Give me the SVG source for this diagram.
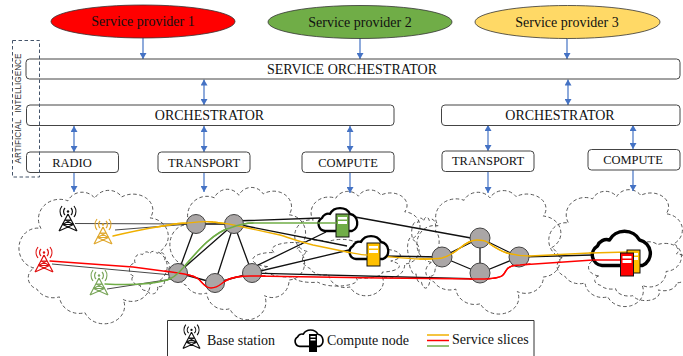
<svg xmlns="http://www.w3.org/2000/svg" width="683" height="356" viewBox="0 0 683 356">
<style>
text{font-family:"Liberation Serif","Times New Roman",serif;fill:#111;text-anchor:middle}
.sp{font-size:14px}
.lg{font-size:14px}
.md{font-size:12.5px}
.lt{text-anchor:start;font-size:14px}
.box{fill:#fff;stroke:#444;stroke-width:1}
.prov{stroke:#4472c4;stroke-width:1.2;fill:none;marker-end:url(#ah)}
.dbl{stroke:#4472c4;stroke-width:1.2;fill:none;marker-start:url(#ahs);marker-end:url(#ah)}
.cloud{fill:none;stroke:#444;stroke-width:.9;stroke-dasharray:3.5 2.5;vector-effect:non-scaling-stroke}
.lnk{stroke:#111;stroke-width:1.3;fill:none}
.thin{stroke:#333;stroke-width:.9;fill:none}
.nd{fill:#aaa6a6;stroke:#444;stroke-width:1}
.cl{fill:#fff;stroke:#000;stroke-width:2.3;stroke-linejoin:round}
.slice{fill:none;stroke-width:1.4;stroke-linecap:round}
.tw{fill:none;stroke-width:1.2;stroke:currentColor}
.bar{fill:#fff}
</style>
<defs>
<marker id="ah" markerWidth="8" markerHeight="7" refX="6" refY="3.5" orient="auto" markerUnits="userSpaceOnUse"><path d="M0,0L6,3.5L0,7Z" fill="#4472c4"/></marker>
<marker id="ahs" markerWidth="8" markerHeight="7" refX="0" refY="3.5" orient="auto" markerUnits="userSpaceOnUse"><path d="M6,0L0,3.5L6,7Z" fill="#4472c4"/></marker>
<path id="cloudp" class="cloud" d="M9,62A12,14 0 0 1 14,32A15,15 0 0 1 33,11A11,11 0 0 1 52,9A11,11 0 0 1 71,8A14,12 0 0 1 91,24A14,14 0 0 1 97,50A13,13 0 0 1 91,74A13,13 0 0 1 72,86A14,13 0 0 1 45,96A14,14 0 0 1 27,84A13,12 0 0 1 11,78A9,9 0 0 1 9,62Z"/>
<g id="tower" class="tw">
<path d="M0,-5L-9,12M0,-5L9,12M-2.8,1L2.8,1M-5.5,5.5L5.5,5.5M-2.8,1L5.5,5.5M2.8,1L-5.5,5.5M-5.5,5.5L9,12M5.5,5.5L-9,12"/>
<circle cx="0" cy="-7.500" r="1.200" fill="currentColor" stroke="none"/>
<path d="M-3,-11A5,5 0 0 0 -3,-4M3,-11A5,5 0 0 1 3,-4M-6,-13A9,9 0 0 0 -6,-2M6,-13A9,9 0 0 1 6,-2"/>
</g>
<path id="cld" class="cl" d="M8,27A7,7 0 0 1 5,14A6.500,6.500 0 0 1 13,10A11,10 0 0 1 33,10A9,9 0 0 1 35,27Z"/>
<g id="srv"><rect width="13" height="23" stroke="#111" stroke-width="1"/><rect class="bar" x="2" y="3" width="9" height="2.500"/><rect class="bar" x="2" y="7" width="9" height="3"/></g>
</defs>

<g id="clouds">
<use href="#cloudp" transform="translate(21.200,186.400) scale(1.416,1.315)"/>
<use href="#cloudp" transform="translate(171.900,183.500) scale(1.287,1.304)"/>
<use href="#cloudp" transform="translate(296.600,186.800) scale(1.188,1.043)"/>
<use href="#cloudp" transform="translate(419,186.900) scale(1.366,1.217)"/>
<use href="#cloudp" transform="translate(550.800,186.200) scale(1.267,1.152)"/>
<use href="#cloudp" transform="translate(130,250) scale(.38,.42)"/>
<use href="#cloudp" transform="translate(255,238) scale(1.4,.46)"/>
<use href="#cloudp" transform="translate(408,215) scale(.3,.7)"/>
<use href="#cloudp" transform="translate(590,240) scale(.95,.58)"/>
</g>

<g id="connectors">
<path class="prov" d="M143,38V59"/>
<path class="prov" d="M360,38V59"/>
<path class="prov" d="M567,38V59"/>
<path class="dbl" d="M204,79.500V105"/>
<path class="dbl" d="M568,79.500V105"/>
<path class="dbl" d="M74,126V152"/>
<path class="dbl" d="M204,126V152"/>
<path class="dbl" d="M350,126V152"/>
<path class="dbl" d="M488,125V151"/>
<path class="dbl" d="M633,125V149"/>
<path class="prov" d="M74,172V192"/>
<path class="prov" d="M204,172V192"/>
<path class="prov" d="M350,172V193"/>
<path class="prov" d="M488,171V193"/>
<path class="prov" d="M633,169V191"/>
<path class="thin" d="M75,223.500L190,224M115,230L190,224M52,264L172,275M107,289L172,279"/>
<path class="lnk" d="M196,224H234M196,224L178,273M234,224L178,273M234,224L215,283M234,224L252,273M178,273L215,283M215,283L252,273"/>
<path class="lnk" d="M234,221L320,218M236,224L347,246M252,268L326,232M252,273L349,250M252,273L480,279M355,217L471,238M380,256L442,257M442,257L480,238M442,257L480,273M480,238V273M480,238L519,257M480,273L519,257M519,257L628,254"/>
</g>

<g id="slices">
<path class="slice" stroke="#70ad47" d="M105,284C125,285 150,285 167,280C176,277 179,272 183,268C190,260 198,250 207,242C216,234 222,230 230,228C238,225 246,223 253,223L340,223"/>
<path class="slice" stroke="#f00" d="M50,261L133,267L178,273C186,274 192,275 197,278C202,281 204,288 211,288C219,288 221,283 227,280C233,277 242,276 250,276L380,278L480,279C492,279 500,278 503,275C506,272 506,268 510,267C513,265 516,265 520,265L593,260L622,260"/>
<path class="slice" stroke="#f0b000" d="M113,236C130,232 145,229 157,227C168,225 178,223 187,223C197,222 206,221 213,222C225,223 235,225 243,227L280,235C290,238 300,242 313,245L347,252C358,254 368,256 380,256C393,257 407,259 420,259C430,259 437,259 442,258C450,256 455,252 460,248C466,243 472,240 477,240C482,240 484,240 487,242C494,247 500,251 507,253C514,255 522,256 530,256L590,253L630,252"/>
</g>

<g id="sp1"><ellipse cx="143" cy="21.500" rx="92" ry="16.500" fill="#f00" stroke="#333" stroke-width=".8"/><text class="sp" x="143" y="26">Service provider 1</text></g>
<g id="sp2"><ellipse cx="360" cy="22" rx="92" ry="16.500" fill="#70ad47" stroke="#333" stroke-width=".8"/><text class="sp" x="360" y="27">Service provider 2</text></g>
<g id="sp3"><ellipse cx="567.500" cy="22" rx="92.500" ry="16.500" fill="#ffd966" stroke="#333" stroke-width=".8"/><text class="sp" x="567" y="27">Service provider 3</text></g>

<g id="service-orchestrator"><rect class="box" x="26" y="59" width="654" height="20" rx="3.500"/><text class="lg" x="352" y="73.500">SERVICE ORCHESTRATOR</text></g>
<g id="orchestrator-1"><rect class="box" x="26.500" y="105" width="367.500" height="20.500" rx="3.500"/><text class="lg" x="209.500" y="120">ORCHESTRATOR</text></g>
<g id="orchestrator-2"><rect class="box" x="441.500" y="105" width="238.500" height="20.500" rx="3.500"/><text class="lg" x="560" y="120">ORCHESTRATOR</text></g>
<g id="radio"><rect class="box" x="26.500" y="152" width="92" height="20.500" rx="3.500"/><text class="md" x="72" y="166.500">RADIO</text></g>
<g id="transport-1"><rect class="box" x="158" y="152" width="92" height="20.500" rx="3.500"/><text class="md" x="204" y="166.500">TRANSPORT</text></g>
<g id="compute-1"><rect class="box" x="302" y="152" width="92" height="20.500" rx="3.500"/><text class="md" x="348" y="166.500">COMPUTE</text></g>
<g id="transport-2"><rect class="box" x="442" y="151" width="92" height="20.500" rx="3.500"/><text class="md" x="488" y="165">TRANSPORT</text></g>
<g id="compute-2"><rect class="box" x="588" y="149.500" width="92" height="20.500" rx="3.500"/><text class="md" x="633" y="164">COMPUTE</text></g>

<g id="artificial-intelligence"><rect x="12.500" y="40.500" width="27" height="136.500" fill="none" stroke="#44546a" stroke-width="1" stroke-dasharray="3.500 2.500"/><text transform="translate(21,108.500) rotate(-90)" style="font-family:'Liberation Sans',Arial,sans-serif;font-size:8.200px;fill:#333">ARTIFICIAL&#160;&#160;&#160;INTELLIGENCE</text></g>

<g id="towers">
<use href="#tower" x="68" y="219" color="#111"/>
<use href="#tower" x="103" y="232" color="#e0a82e"/>
<use href="#tower" x="44" y="260" color="#e01010"/>
<use href="#tower" x="99" y="283" color="#7aa65a"/>
</g>

<g id="network-nodes">
<circle class="nd" cx="196" cy="224" r="9.500"/>
<circle class="nd" cx="234" cy="224" r="9.500"/>
<circle class="nd" cx="178" cy="273" r="9.500"/>
<circle class="nd" cx="215" cy="283" r="9.500"/>
<circle class="nd" cx="252" cy="273" r="9.500"/>
<circle class="nd" cx="442" cy="257" r="10"/>
<circle class="nd" cx="480" cy="238" r="10"/>
<circle class="nd" cx="519" cy="257" r="10"/>
<circle class="nd" cx="480" cy="273" r="10"/>
</g>
<path class="slice" stroke="#f0b000" d="M157,227C168,225 178,223 187,223C197,222 206,221 213,222C225,223 235,225 243,227M420,259C430,259 437,259 442,258C450,256 455,252 460,248C466,243 472,240 477,240C482,240 484,240 487,242C494,247 500,251 507,253C514,255 522,256 530,256"/>
<path class="slice" stroke="#f00" d="M165,271L178,273C186,274 192,275 197,278C202,281 204,288 211,288C219,288 221,283 227,280C233,277 242,276 250,276L265,276M470,279L480,279C492,279 500,278 503,275C506,272 506,268 510,267C513,265 516,265 520,265L530,264"/>
<path class="slice" stroke="#70ad47" d="M167,280C176,277 179,272 183,268C190,260 198,250 207,242C216,234 222,230 230,228C238,225 246,223 253,223"/>

<g id="compute-green"><use href="#cld" transform="translate(317,204)"/><use href="#srv" x="336" y="214" fill="#70ad47"/><path class="slice" stroke="#70ad47" d="M318,223L336,223"/></g>
<g id="compute-yellow"><use href="#cld" transform="translate(348,232)"/><use href="#srv" x="367" y="243" fill="#ffc000"/><path class="slice" stroke="#f0b000" d="M347,252C358,254 362,255 367,255"/></g>
<g id="compute-big"><use href="#cld" transform="translate(590,225) scale(1.5)"/><path class="slice" stroke="#f0b000" d="M590,253L628,252"/><path class="slice" stroke="#f00" d="M593,260L622,260"/><use href="#srv" x="627" y="250" fill="#ffc000"/><use href="#srv" x="620.500" y="253" fill="#f00"/></g>

<g id="legend">
<path d="M167.500,356V320.500H534V356" fill="none" stroke="#333" stroke-width="1"/>
<use href="#tower" transform="translate(191.500,337) scale(.95)" color="#111"/>
<text class="lt" x="207" y="345">Base station</text>
<use href="#cld" transform="translate(294,327) scale(.72)"/>
<rect x="309" y="334" width="8" height="18" fill="#000"/><rect x="310.500" y="336" width="5" height="1.500" fill="#fff"/><rect x="310.500" y="339" width="5" height="1.500" fill="#fff"/>
<text class="lt" x="327" y="345">Compute node</text>
<path d="M427,335H449" stroke="#f0b000" stroke-width="1.500"/>
<path d="M427,340.500H449" stroke="#f00" stroke-width="1.500"/>
<path d="M427,346H449" stroke="#70ad47" stroke-width="1.500"/>
<text class="lt" x="452" y="344">Service slices</text>
</g>
</svg>
